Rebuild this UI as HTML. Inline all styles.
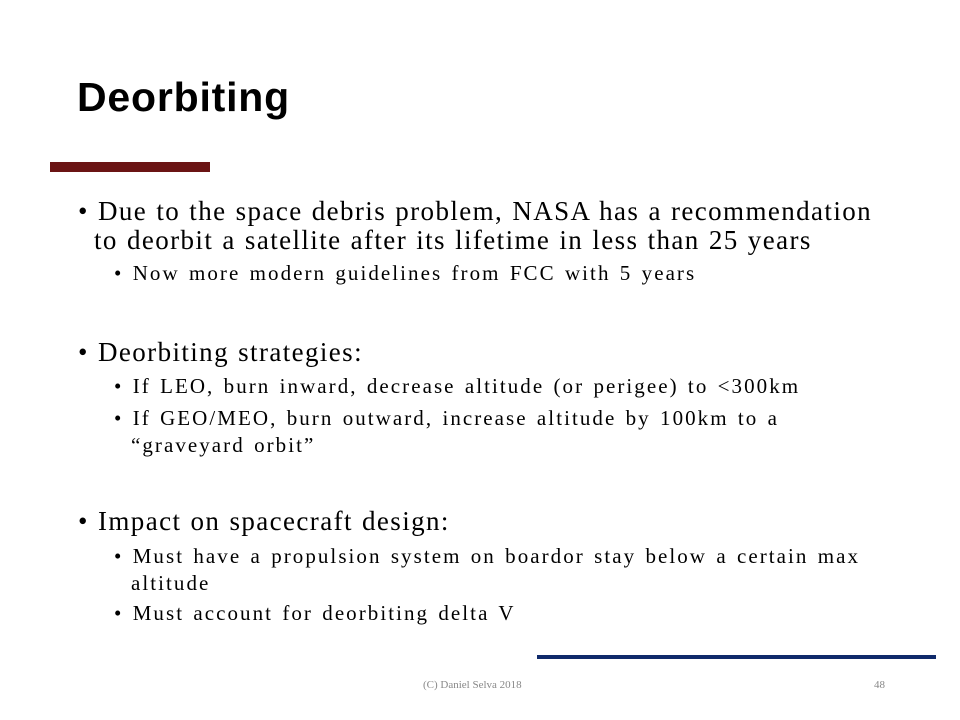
<!DOCTYPE html>
<html><head><meta charset="utf-8"><style>
body{margin:0;width:960px;height:720px;background:#fff;position:relative;overflow:hidden}
.t{position:absolute;font-family:"Liberation Serif",serif;color:#000;white-space:nowrap}
.l1{font-size:27px;letter-spacing:1.4px;word-spacing:1px}
.l2{font-size:21px;letter-spacing:2.05px;word-spacing:2px}
</style></head><body>
<div class="t" style="left:77px;top:74px;font-family:'Liberation Sans',sans-serif;font-weight:bold;font-size:41px;letter-spacing:0.8px">Deorbiting</div>
<div style="position:absolute;left:50px;top:162px;width:160px;height:10px;background:#6b1414"></div>

<div class="t l1" style="left:78px;top:196px">• Due to the space debris problem, NASA has a recommendation</div>
<div class="t l1" style="left:94px;top:225px">to deorbit a satellite after its lifetime in less than 25 years</div>
<div class="t l2" style="left:114px;top:261px">• Now more modern guidelines from FCC with 5 years</div>

<div class="t l1" style="left:78px;top:337px">• Deorbiting strategies:</div>
<div class="t l2" style="left:114px;top:374px">• If LEO, burn inward, decrease altitude (or perigee) to &lt;300km</div>
<div class="t l2" style="left:114px;top:406px">• If GEO/MEO, burn outward, increase altitude by 100km to a</div>
<div class="t l2" style="left:131px;top:433px">“graveyard orbit”</div>

<div class="t l1" style="left:78px;top:506px">• Impact on spacecraft design:</div>
<div class="t l2" style="left:114px;top:544px">• Must have a propulsion system on boardor stay below a certain max</div>
<div class="t l2" style="left:131px;top:571px">altitude</div>
<div class="t l2" style="left:114px;top:601px">• Must account for deorbiting delta V</div>

<div style="position:absolute;left:537px;top:655px;width:399px;height:4px;background:#0f2a6b"></div>
<div class="t" style="left:423px;top:679px;font-size:11px;color:#888">(C) Daniel Selva 2018</div>
<div class="t" style="left:874px;top:679px;font-size:11px;color:#888">48</div>
</body></html>
